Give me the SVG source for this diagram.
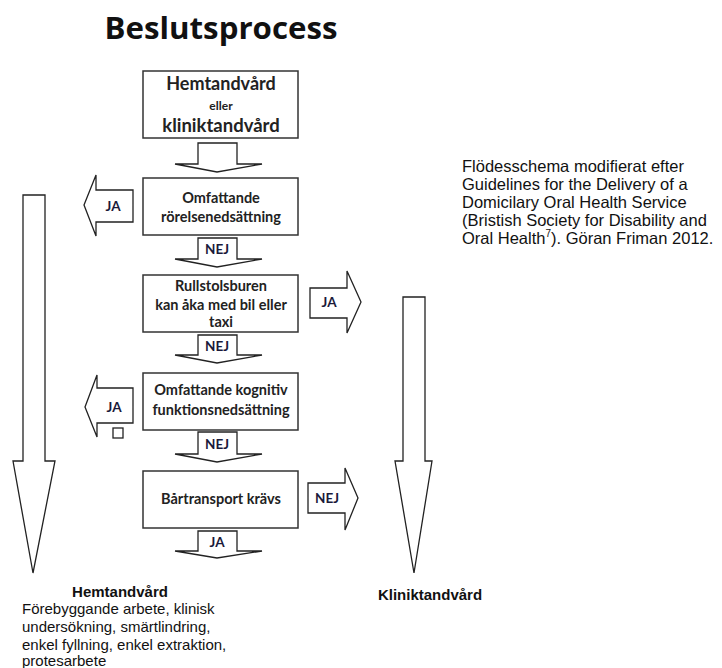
<svg xmlns="http://www.w3.org/2000/svg" width="722" height="668" viewBox="0 0 722 668">
<style>
.box{fill:#fff;stroke:#333;stroke-width:1.5}
.arr{fill:#fff;stroke:#222;stroke-width:1.3;stroke-linejoin:miter}
.bt{font-family:Lato,"Open Sans",sans-serif;font-weight:bold;fill:#222;text-anchor:middle}
.lbl{font-family:Lato,"Open Sans",sans-serif;font-weight:bold;font-size:13.5px;fill:#1a1a3a;text-anchor:middle}
.note{font-family:"Liberation Sans",Arial,sans-serif;font-size:16.5px;fill:#111}
.sub{font-family:"Liberation Sans",Arial,sans-serif;font-size:15px;fill:#111}
.hd{font-family:"Liberation Sans",Arial,sans-serif;font-weight:bold;font-size:15px;fill:#111;text-anchor:middle}
</style>
<rect width="722" height="668" fill="#fff"/>
<text id="title" x="221" y="39" font-family="'Open Sans',Lato,sans-serif" font-weight="bold" font-size="31" fill="#111" text-anchor="middle" textLength="233" lengthAdjust="spacingAndGlyphs">Beslutsprocess</text>

<g id="connectors">
  <polygon class="arr" points="198,143 237,143 237,164 262,164 217,172 175,164 198,164"/>
  <polygon class="arr" points="198,238 237,238 237,259 262,259 217,267 175,259 198,259"/>
  <text class="lbl" x="217" y="254">NEJ</text>
  <polygon class="arr" points="198,335 237,335 237,355 262,355 217,363 175,355 198,355"/>
  <text class="lbl" x="217" y="351">NEJ</text>
  <polygon class="arr" points="198,432 237,432 237,454 262,454 217,462 175,454 198,454"/>
  <text class="lbl" x="217" y="449">NEJ</text>
  <polygon class="arr" points="198,531 237,531 237,551 262,551 217,558 175,551 198,551"/>
  <text class="lbl" x="217" y="547">JA</text>

  <polygon class="arr" points="133,190 96,190 96,175 84,205 96,236 96,222 133,222"/>
  <text class="lbl" x="113" y="211">JA</text>
  <polygon class="arr" points="133,388 97,388 97,375 85,407 97,437 97,423 133,423"/>
  <text class="lbl" x="114" y="412">JA</text>
  <rect x="113" y="428" width="10" height="10" fill="#fff" stroke="#222" stroke-width="1.3"/>

  <polygon class="arr" points="310,288 347,288 347,271 361,302 347,333 347,318 310,318"/>
  <text class="lbl" x="329" y="307">JA</text>
  <polygon class="arr" points="308,483 345,483 345,468 358,498 345,530 345,513 308,513"/>
  <text class="lbl" x="327" y="503">NEJ</text>

  <polygon class="arr" points="23,195 45,195 45,461 55,461 33,573 13,461 23,461"/>
  <polygon class="arr" points="403,297 425,297 425,461 432,461 414,573 395,461 403,461"/>
</g>

<g id="n1">
  <rect class="box" x="143" y="71" width="155" height="67"/>
  <text class="bt" x="221" y="90" font-size="18">Hemtandvård</text>
  <text class="bt" x="221" y="110" font-size="12">eller</text>
  <text class="bt" x="221" y="132" font-size="18.5">kliniktandvård</text>
</g>
<g id="n2">
  <rect class="box" x="143" y="178" width="155" height="57"/>
  <text class="bt" x="221" y="203" font-size="14.5">Omfattande</text>
  <text class="bt" x="221" y="222" font-size="14.5">rörelsenedsättning</text>
</g>
<g id="n3">
  <rect class="box" x="143" y="275" width="155" height="57"/>
  <text class="bt" x="221" y="291" font-size="14.5">Rullstolsburen</text>
  <text class="bt" x="221" y="310" font-size="14.5">kan åka med bil eller</text>
  <text class="bt" x="221" y="327" font-size="14.5">taxi</text>
</g>
<g id="n4">
  <rect class="box" x="143" y="373" width="155" height="57"/>
  <text class="bt" x="221" y="395" font-size="14.5">Omfattande kognitiv</text>
  <text class="bt" x="221" y="415" font-size="14.5">funktionsnedsättning</text>
</g>
<g id="n5">
  <rect class="box" x="143" y="471" width="155" height="57"/>
  <text class="bt" x="221" y="504" font-size="14.5">Bårtransport krävs</text>
</g>

<g id="hemtandvard">
  <text class="hd" x="120" y="597">Hemtandvård</text>
  <text class="sub" x="22" y="614">Förebyggande arbete, klinisk</text>
  <text class="sub" x="22" y="632">undersökning, smärtlindring,</text>
  <text class="sub" x="22" y="650">enkel fyllning, enkel extraktion,</text>
  <text class="sub" x="22" y="666">protesarbete</text>
</g>
<g id="kliniktandvard">
  <text class="hd" x="430" y="600">Kliniktandvård</text>
</g>
<g id="note">
  <text class="note" x="462" y="172">Flödesschema modifierat efter</text>
  <text class="note" x="462" y="190">Guidelines for the Delivery of a</text>
  <text class="note" x="462" y="208">Domicilary Oral Health Service</text>
  <text class="note" x="462" y="226">(Bristish Society for Disability and</text>
  <text class="note" x="462" y="244">Oral Health<tspan font-size="10" dy="-7">7</tspan><tspan dy="7">). Göran Friman 2012.</tspan></text>
</g>
</svg>
